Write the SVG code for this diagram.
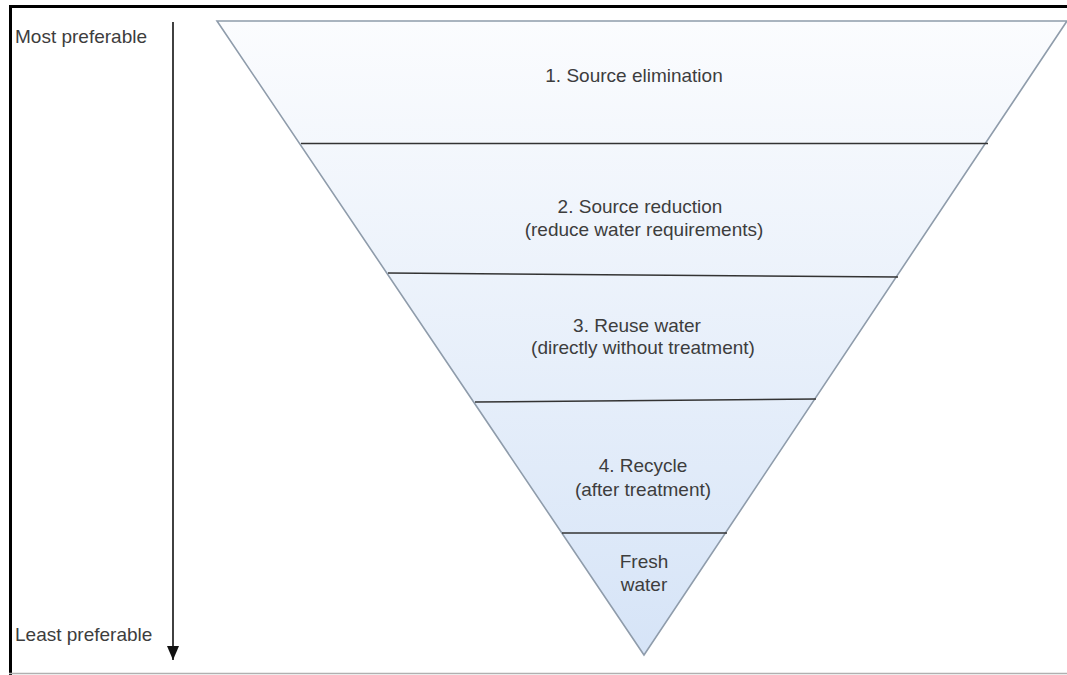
<svg xmlns="http://www.w3.org/2000/svg" width="1067" height="675" viewBox="0 0 1067 675">
  <defs>
    <linearGradient id="fillGrad" x1="0" y1="21" x2="0" y2="655" gradientUnits="userSpaceOnUse">
      <stop offset="0" stop-color="#fbfcfe"/>
      <stop offset="1" stop-color="#d6e4f7"/>
    </linearGradient>
    <marker id="arrowHead" viewBox="0 0 14 12" refX="14" refY="6" markerWidth="14" markerHeight="12" markerUnits="userSpaceOnUse" orient="auto">
      <path d="M0,0 L14,6 L0,12 Z" fill="#111"/>
    </marker>
    <style>
      .lbl { font-family: "Liberation Sans", Arial, sans-serif; font-size: 19px; fill: #3d3d3d; text-anchor: middle; }
      .side { font-family: "Liberation Sans", Arial, sans-serif; font-size: 19px; fill: #3d3d3d; }
      .divider { stroke: #333333; stroke-width: 1.6; fill: none; }
      .edge { stroke: #8f9cab; stroke-width: 1.6; fill: url(#fillGrad); }
    </style>
  </defs>

  <rect x="0" y="0" width="1067" height="675" fill="#ffffff"/>

  <!-- frame -->
  <g id="frame">
    <line x1="9" y1="6.5" x2="1067" y2="6.5" stroke="#000" stroke-width="3"/>
    <line x1="10.5" y1="5" x2="10.5" y2="675" stroke="#000" stroke-width="3"/>
    <line x1="9" y1="673.5" x2="1067" y2="673.5" stroke="#b0b0b0" stroke-width="1.5"/>
  </g>

  <!-- triangle -->
  <g id="triangle">
    <polygon class="edge" points="217,21 1067,21 644,655"/>
  </g>

  <!-- connectors: dividers and side arrow -->
  <g id="connectors">
    <line class="divider" x1="301" y1="143.5" x2="988" y2="143.5"/>
    <line class="divider" x1="388" y1="273" x2="898" y2="277"/>
    <line class="divider" x1="475" y1="402" x2="816" y2="399"/>
    <line class="divider" x1="562" y1="533" x2="727" y2="533"/>
    <line x1="173" y1="22" x2="173" y2="660" stroke="#111" stroke-width="1.6" marker-end="url(#arrowHead)"/>
  </g>

  <g id="node-most"><text class="side" x="15" y="43">Most preferable</text></g>
  <g id="node-least"><text class="side" x="15" y="641">Least preferable</text></g>

  <g id="node-1"><text class="lbl" x="634" y="82">1. Source elimination</text></g>
  <g id="node-2">
    <text class="lbl" x="640" y="213">2. Source reduction</text>
    <text class="lbl" x="644" y="236">(reduce water requirements)</text>
  </g>
  <g id="node-3">
    <text class="lbl" x="637" y="332">3. Reuse water</text>
    <text class="lbl" x="643" y="354">(directly without treatment)</text>
  </g>
  <g id="node-4">
    <text class="lbl" x="643" y="472">4. Recycle</text>
    <text class="lbl" x="643" y="496">(after treatment)</text>
  </g>
  <g id="node-5">
    <text class="lbl" x="644" y="568">Fresh</text>
    <text class="lbl" x="644" y="591">water</text>
  </g>
</svg>
